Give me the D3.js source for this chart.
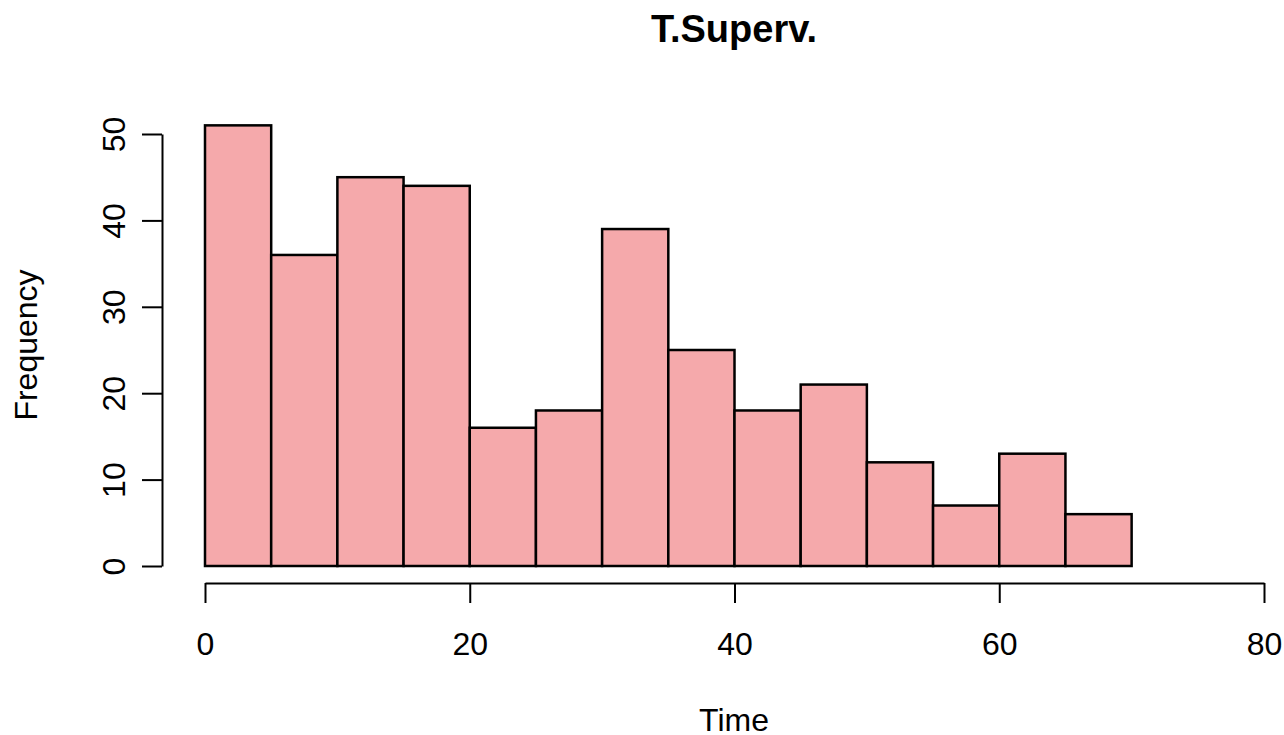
<!DOCTYPE html>
<html lang="en">
<head>
    <meta charset="UTF-8">
    <title>T.Superv.</title>
    <style type="text/css">
        body { margin: 0; background: white; }
        svg { display: block; }
        .axis path, .axis line { stroke: black; stroke-width: 2; }
        .axis text { font: 32px "Liberation Sans", Arial, Helvetica, sans-serif; fill: black; }
    </style>
</head>
<body>

<svg width="1284" height="735"></svg>

<script src="https://d3js.org/d3.v7.min.js"></script>

<script>
    // histogram bins (left edge) and counts
    var binStarts = [0, 5, 10, 15, 20, 25, 30, 35, 40, 45, 50, 55, 60, 65];
    var binWidth = 5;
    var counts = [51, 36, 45, 44, 16, 18, 39, 25, 18, 21, 12, 7, 13, 6];

    var xTicks = [0, 20, 40, 60, 80];
    var yTicks = [0, 10, 20, 30, 40, 50];

    var svg = d3.select("svg");

    var x = d3.scaleLinear()
            .domain([0, 80])
            .range([205, 1264]);

    var y = d3.scaleLinear()
            .domain([0, 50])
            .range([566, 134]);

    var bins = binStarts.map(function (b, i) {
        return {x0: b, x1: b + binWidth, n: counts[i]};
    });

    svg.append("g")
            .selectAll("rect")
            .data(bins)
            .enter().append("rect")
            .attr("x", function (d) { return x(d.x0); })
            .attr("y", function (d) { return y(d.n); })
            .attr("width", function (d) { return x(d.x1) - x(d.x0); })
            .attr("height", function (d) { return y(0) - y(d.n); })
            .style("fill", "#f5a9ab")
            .style("stroke", "black")
            .style("stroke-width", "2.5");

    // x axis
    var gx = svg.append("g")
            .attr("class", "axis")
            .attr("transform", "translate(0,583)")
            .call(d3.axisBottom(x)
                    .tickValues(xTicks)
                    .tickSize(20)
                    .tickSizeOuter(0));
    gx.selectAll("text")
            .attr("y", 72)
            .attr("dy", null);

    // y axis
    var gy = svg.append("g")
            .attr("class", "axis")
            .attr("transform", "translate(162,0)")
            .call(d3.axisLeft(y)
                    .tickValues(yTicks)
                    .tickSize(20)
                    .tickSizeOuter(0));
    gy.selectAll("text")
            .attr("x", null)
            .attr("dy", null)
            .attr("text-anchor", "middle")
            .attr("transform", "translate(-37,0) rotate(-90)");

    svg.selectAll(".axis .domain").attr("fill", "none");

    // labels
    svg.append("text")
            .attr("x", 734)
            .attr("y", 42)
            .attr("text-anchor", "middle")
            .style("font", "bold 38px 'Liberation Sans', Arial, Helvetica, sans-serif")
            .text("T.Superv.");

    svg.append("text")
            .attr("x", 734)
            .attr("y", 731)
            .attr("text-anchor", "middle")
            .style("font", "32px 'Liberation Sans', Arial, Helvetica, sans-serif")
            .text("Time");

    svg.append("text")
            .attr("transform", "translate(37,345) rotate(-90)")
            .attr("text-anchor", "middle")
            .style("font", "32px 'Liberation Sans', Arial, Helvetica, sans-serif")
            .text("Frequency");
</script>

</body>
</html>
